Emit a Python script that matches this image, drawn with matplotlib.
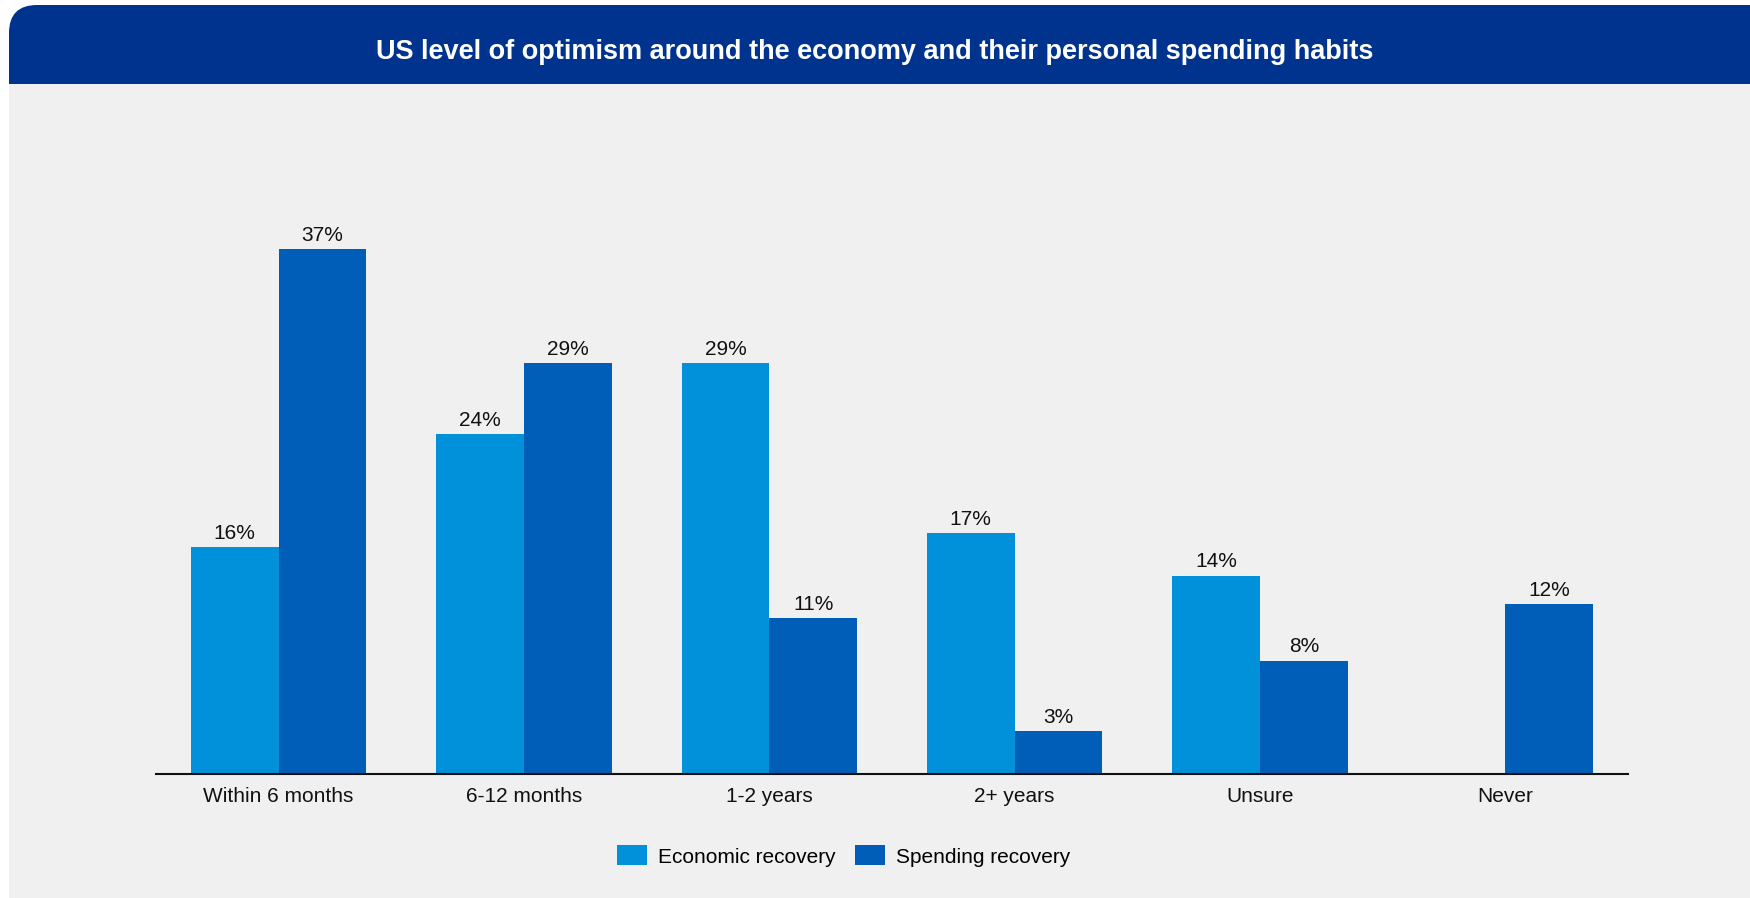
import numpy as np
import matplotlib.pyplot as plt
from matplotlib.patches import FancyBboxPatch, Rectangle

plt.rcParams['font.family'] = ['Liberation Sans', 'DejaVu Sans']

categories = ['Within 6 months', '6-12 months', '1-2 years', '2+ years', 'Unsure', 'Never']
economic = [16, 24, 29, 17, 14, np.nan]
spending = [37, 29, 11, 3, 8, 12]

c_econ = '#0091DA'
c_spend = '#005EB8'
c_head = '#00338D'
c_bg = '#F0F0F0'

W, H = 1750, 898
fig = plt.figure(figsize=(W / 100, H / 100), dpi=100)
fig.patch.set_facecolor('white')

# grey panel and rounded header bar
fig.patches.append(Rectangle((9 / W, 0), 1 - 9 / W, 1 - 84 / H, transform=fig.transFigure,
                             facecolor=c_bg, edgecolor='none', zorder=0))
r = 28
fig.patches.append(FancyBboxPatch((9, H - 84), W + 60, 79,
                                  boxstyle=f'round,pad=0,rounding_size={r}',
                                  transform=None, facecolor=c_head, edgecolor='none',
                                  zorder=1, clip_on=False))
fig.patches.append(Rectangle((9, H - 84), W, 40, transform=None,
                             facecolor=c_head, edgecolor='none', zorder=1))
fig.text(0.5, 1 - 52 / H, 'US level of optimism around the economy and their personal spending habits',
         ha='center', va='center', color='white', fontsize=19.5, fontweight='bold', zorder=3)

ax = fig.add_axes([156 / W, 1 - 774 / H, 1472 / W, 604 / H])
ax.set_zorder(2)
ax.set_facecolor('none')

x = np.arange(len(categories))
bw = 0.358
b1 = ax.bar(x - bw / 2, economic, bw, color=c_econ, label='Economic recovery')
b2 = ax.bar(x + bw / 2, spending, bw, color=c_spend, label='Spending recovery')

for bars, vals in ((b1, economic), (b2, spending)):
    labels = ['' if np.isnan(v) else f'{v:.0f}%' for v in vals]
    ax.bar_label(bars, labels=labels, padding=3, fontsize=15, color='#111111')

ax.set_xlim(-0.5, 5.5)
ax.set_ylim(0, 42.6)
ax.set_xticks(x)
ax.set_xticklabels(categories, fontsize=15, color='#111111')
ax.tick_params(axis='x', length=0, pad=9)
ax.set_yticks([])
for s in ('top', 'right', 'left'):
    ax.spines[s].set_visible(False)
ax.spines['bottom'].set_linewidth(1.5)
ax.spines['bottom'].set_color('#111111')

leg = fig.legend(handles=[b1, b2], loc='center', bbox_to_anchor=(843.5 / W, 1 - 856 / H),
                 ncol=2, frameon=False, fontsize=15, handlelength=1.44, handleheight=1.1,
                 handletextpad=0.53, columnspacing=0.9)
leg.set_zorder(3)

fig.savefig('out.png', dpi=100, facecolor=fig.get_facecolor())
